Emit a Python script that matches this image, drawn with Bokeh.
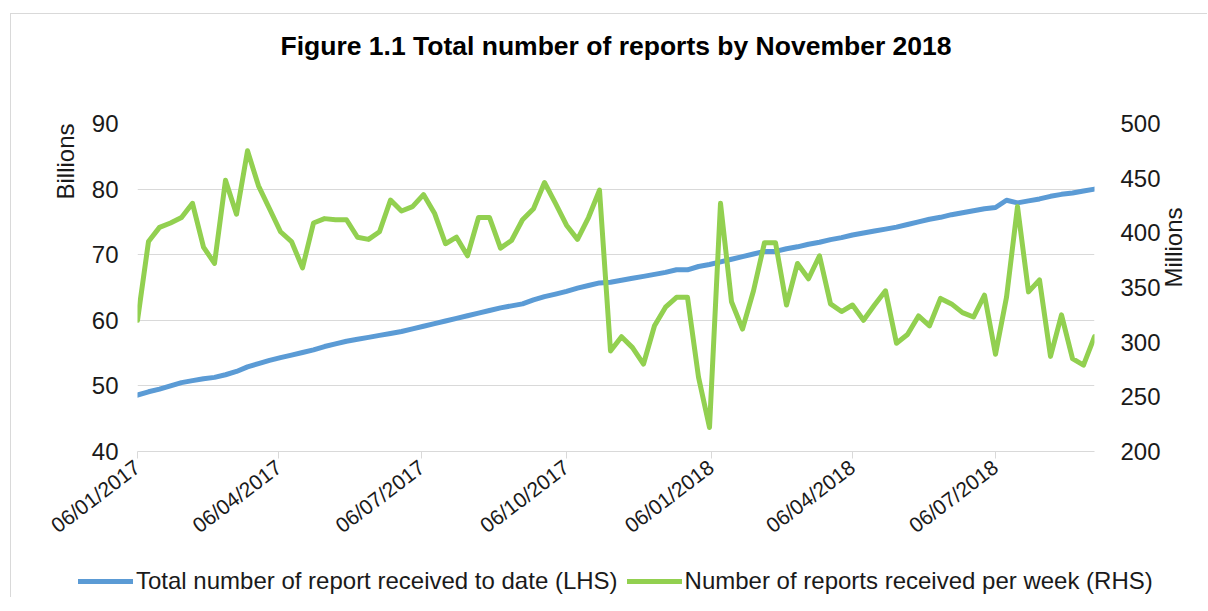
import math
import pandas as pd
from bokeh.plotting import figure
from bokeh.models import (Range1d, LinearAxis, FixedTicker, DatetimeTickFormatter,
                          Legend, LegendItem, Title)
from bokeh.embed import file_html
from bokeh.resources import INLINE

# ---------------- data ----------------
start_date = "2017-01-06"
n_weeks = 88
dates = pd.date_range(start_date, periods=n_weeks, freq="7D")

total_to_date_bn = [
    48.6, 49.1, 49.5, 50.0, 50.5, 50.8, 51.1, 51.3, 51.7, 52.2,
    52.9, 53.4, 53.9, 54.3, 54.7, 55.1, 55.5, 56.0, 56.4, 56.8,
    57.1, 57.4, 57.7, 58.0, 58.3, 58.7, 59.1, 59.5, 59.9, 60.3,
    60.7, 61.1, 61.5, 61.9, 62.2, 62.5, 63.1, 63.6, 64.0, 64.4,
    64.9, 65.3, 65.7, 65.8, 66.1, 66.4, 66.7, 67.0, 67.3, 67.7,
    67.7, 68.2, 68.5, 68.9, 69.3, 69.7, 70.1, 70.5, 70.5, 70.9,
    71.2, 71.6, 71.9, 72.3, 72.6, 73.0, 73.3, 73.6, 73.9, 74.2,
    74.6, 75.0, 75.4, 75.7, 76.1, 76.4, 76.7, 77.0, 77.2, 78.3,
    77.9, 78.2, 78.5, 78.9, 79.2, 79.4, 79.7, 80.0,
]

weekly_reports_mn = [
    320, 392, 405, 409, 414, 427, 387, 372, 448, 417,
    475, 443, 422, 401, 392, 368, 409, 413, 412, 412,
    396, 394, 401, 430, 420, 424, 435, 418, 390, 396,
    379, 414, 414, 386, 393, 412, 422, 446, 427, 407,
    394, 414, 439, 292, 305, 295, 280, 315, 332, 341,
    341, 268, 222, 427, 337, 312, 347, 391, 391, 334,
    372, 358, 379, 335, 328, 334, 320, 334, 347, 299,
    307, 324, 315, 340, 335, 327, 323, 343, 289, 341,
    424, 346, 357, 287, 325, 285, 279, 305,
]

tick_dates = ["2017-01-06", "2017-04-06", "2017-07-06", "2017-10-06",
              "2018-01-06", "2018-04-06", "2018-07-06"]
tick_labels = ["06/01/2017", "06/04/2017", "06/07/2017", "06/10/2017",
               "06/01/2018", "06/04/2018", "06/07/2018"]

left_ticks = [40, 50, 60, 70, 80, 90]
right_ticks = [200, 250, 300, 350, 400, 450, 500]

title_text = "Figure 1.1 Total number of reports by November 2018"
left_label = "Billions"
right_label = "Millions"
name_lhs = "Total number of report received to date (LHS)"
name_rhs = "Number of reports received per week (RHS)"

# ---------------- style ----------------
FONT = "Liberation Sans"
TXT = "#1a1a1a"
GRID = "#d9d9d9"
BLUE = "#5B9BD5"
GREEN = "#92D050"
W = 1197

tick_ms = [pd.Timestamp(d).value / 1e6 for d in tick_dates]

p = figure(width=W, height=552, x_axis_type="datetime",
           output_backend="svg", toolbar_location=None,
           x_range=Range1d(dates[0], dates[-1]),
           y_range=Range1d(left_ticks[0], left_ticks[-1]),
           min_border_left=126, min_border_right=114,
           min_border_top=109, min_border_bottom=115)
p.outline_line_color = None
p.background_fill_color = "white"
p.border_fill_color = "white"
p.styles = {"margin-left": "10px", "margin-top": "13px",
            "border-left": "1px solid #d9d9d9", "border-top": "1px solid #d9d9d9"}

p.title.text = title_text
p.title.align = "center"
p.title.text_font = FONT
p.title.text_font_size = "26.5px"
p.title.text_font_style = "bold"
p.title.text_color = "black"
p.title.standoff = 10

# empty spacer between the title and the plot frame
p.add_layout(Title(text=" ", text_font_size="50px", standoff=0), "above")

p.extra_y_ranges = {"rhs": Range1d(right_ticks[0], right_ticks[-1])}
raxis = LinearAxis(y_range_name="rhs", ticker=FixedTicker(ticks=right_ticks))
p.add_layout(raxis, "right")
# label-only axis for the right-hand title, spanning the upper part of the scale
raxis_lab = LinearAxis(y_range_name="rhs", ticker=FixedTicker(ticks=[]),
                       bounds=(328, 500))
p.add_layout(raxis_lab, "right")

laxis = p.yaxis[0]
laxis.ticker = FixedTicker(ticks=left_ticks)
for ax, lso in ((laxis, 13), (raxis, 20), (raxis_lab, 0)):
    ax.axis_line_color = None
    ax.major_tick_line_color = None
    ax.minor_tick_line_color = None
    ax.major_label_text_font = FONT
    ax.major_label_text_font_size = "24px"
    ax.major_label_text_color = TXT
    ax.major_label_standoff = lso

raxis_lab.major_tick_out = 0
raxis_lab.major_tick_in = 0

for ax, lab, so in ((laxis, left_label, 23), (raxis_lab, right_label, 10)):
    ax.axis_label = lab
    ax.axis_label_text_font = FONT
    ax.axis_label_text_font_size = "24px"
    ax.axis_label_text_font_style = "normal"
    ax.axis_label_text_color = TXT
    ax.axis_label_standoff = so
    ax.axis_label_orientation = math.pi / 2
    ax.axis_label_text_align = "left"
if "axis_label_align" in laxis.properties():
    laxis.axis_label_align = "end"

xa = p.xaxis[0]
xa.ticker = FixedTicker(ticks=tick_ms)
fmt = "%d/%m/%Y"
xa.formatter = DatetimeTickFormatter(days=fmt, months=fmt, years=fmt, hours=fmt)
xa.major_label_overrides = {t: l for t, l in zip(tick_ms, tick_labels)}
xa.major_label_orientation = math.radians(37)
xa.axis_line_color = GRID
xa.major_tick_line_color = GRID
xa.major_tick_out = 7
xa.major_tick_in = 0
xa.minor_tick_line_color = None
xa.major_label_text_font = FONT
xa.major_label_text_font_size = "21px"
xa.major_label_text_color = TXT
xa.major_label_standoff = 6

p.xgrid.visible = False
p.ygrid.grid_line_color = GRID
p.ygrid.grid_line_width = 1

p.line(dates, total_to_date_bn, line_color=BLUE, line_width=5,
       line_join="round", line_cap="round")
p.line(dates, weekly_reports_mn, line_color=GREEN, line_width=5,
       line_join="round", line_cap="round", y_range_name="rhs")

# ---- legend strip below the chart (separate root, same series) ----
lg = figure(width=W, height=32, output_backend="svg", toolbar_location=None,
            x_range=Range1d(0, 1), y_range=Range1d(0, 1),
            min_border=0, min_border_left=0, min_border_right=0,
            min_border_top=0, min_border_bottom=0)
lg.axis.visible = False
lg.grid.visible = False
lg.outline_line_color = None
lg.border_fill_color = "white"
lg.background_fill_color = "white"
lg.styles = {"margin-left": "10px", "border-left": "1px solid #d9d9d9"}
k1 = lg.line(dates, total_to_date_bn, line_color=BLUE, line_width=5, line_cap="round")
k2 = lg.line(dates, weekly_reports_mn, line_color=GREEN, line_width=5, line_cap="round")
legend = Legend(items=[LegendItem(label=name_lhs, renderers=[k1]),
                       LegendItem(label=name_rhs, renderers=[k2])],
                location=(67, 2), orientation="horizontal",
                glyph_width=55, glyph_height=24, label_standoff=3, spacing=9,
                padding=0, margin=0, border_line_color=None,
                background_fill_alpha=0,
                label_text_font=FONT, label_text_font_size="24px",
                label_text_color=TXT)
lg.add_layout(legend, "center")

open("out.html", "w").write(file_html([p, lg], INLINE))
